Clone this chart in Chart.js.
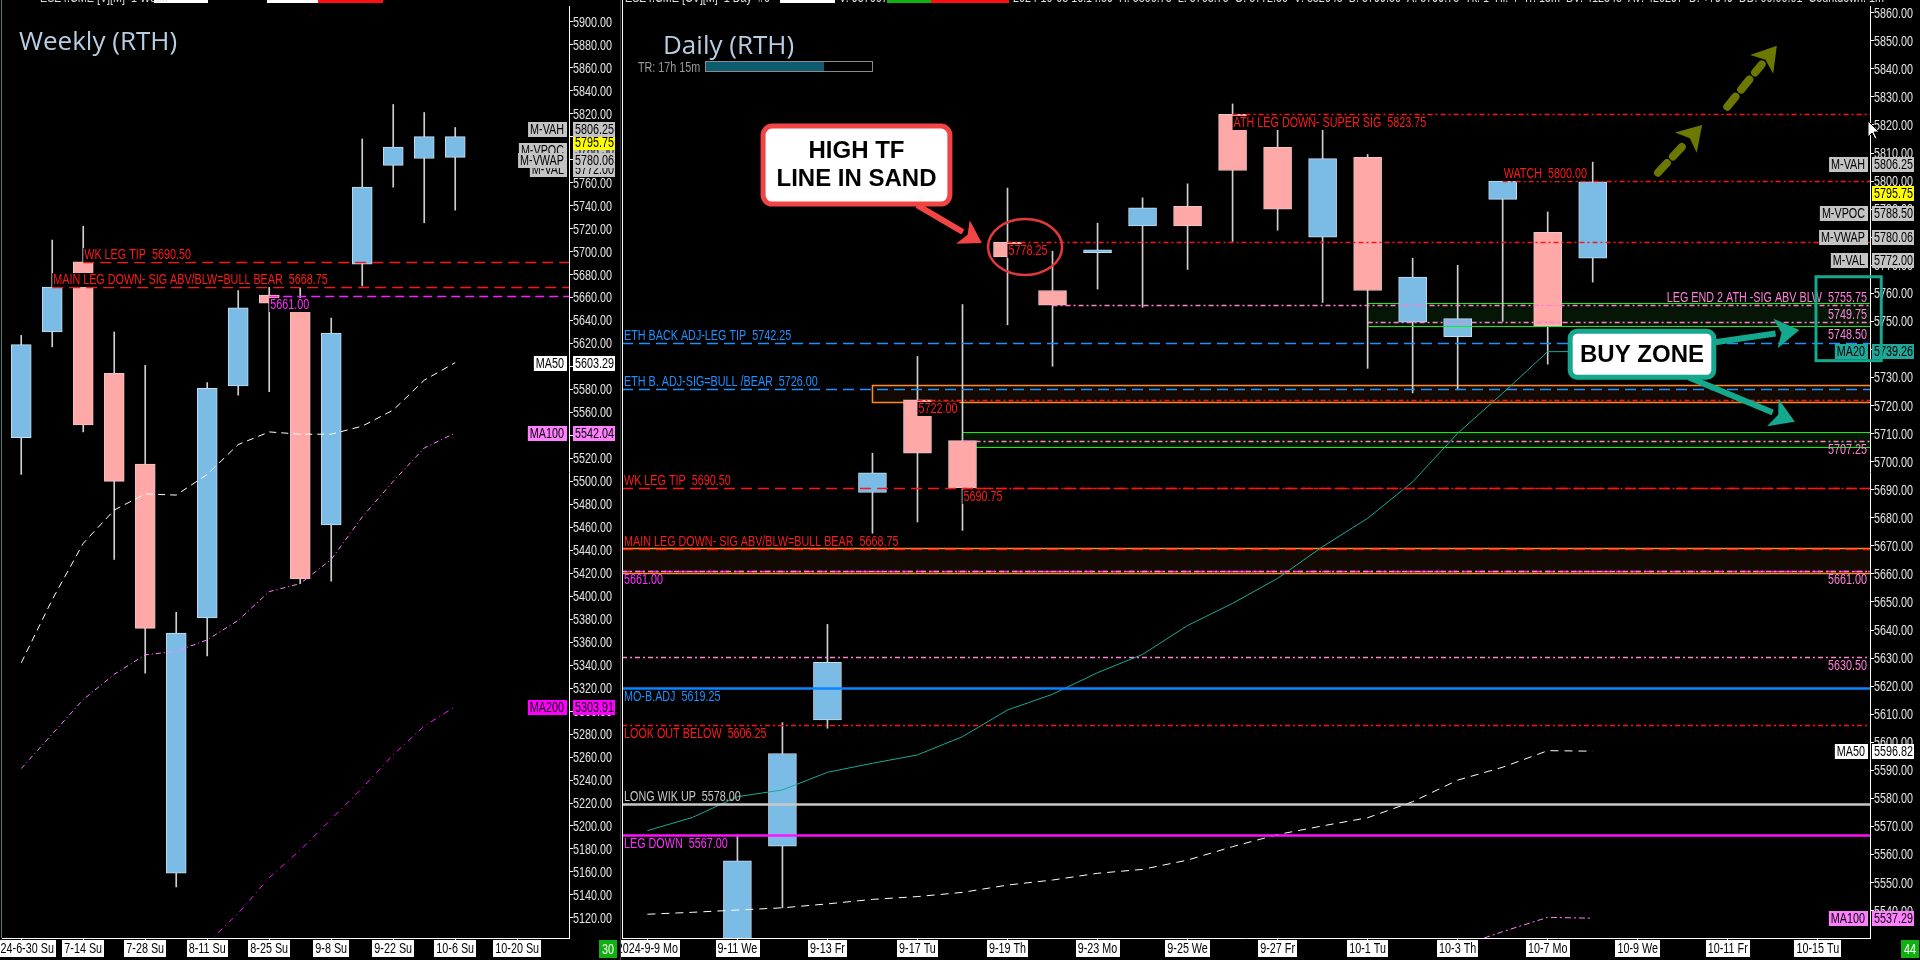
<!DOCTYPE html>
<html>
<head>
<meta charset="utf-8">
<script src="https://cdn.jsdelivr.net/npm/chart.js@4/dist/chart.umd.min.js"></script>
<style>
  html, body { margin: 0; padding: 0; background: #000; overflow: hidden; }
  #wrap { position: relative; width: 1920px; height: 960px; background: #000; }
  #weekly { position: absolute; left: 0; top: 0; }
  #daily  { position: absolute; left: 621px; top: 0; }
  .sep { position: absolute; left: 620px; top: 0; width: 1px; height: 960px; background: #3a3a3a; }
</style>
</head>
<body>
<div id="wrap">
  <canvas id="weekly" width="620" height="960"></canvas>
  <div class="sep"></div>
  <canvas id="daily" width="1299" height="960"></canvas>
</div>
<script>
// ── Weekly data ───────────────────────────────────────────────────────────────
const weekLabels = ['2024-6-30 Su','7-7 Su','7-14 Su','7-21 Su','7-28 Su','8-4 Su','8-11 Su','8-18 Su','8-25 Su',
                    '9-1 Su','9-8 Su','9-15 Su','9-22 Su','9-29 Su','10-6 Su','10-13 Su','10-20 Su','10-27 Su'];
const weekOpen  = [5538, 5630, 5691, 5594, 5515, 5159, 5381, 5583, 5662, 5655, 5462, 5689, 5775, 5781, 5782];
const weekHigh  = [5627, 5710, 5722, 5630, 5601, 5386, 5586, 5666, 5669, 5668, 5642, 5798, 5828, 5821, 5808];
const weekLow   = [5506, 5617, 5543, 5432, 5333, 5147, 5348, 5575, 5578, 5411, 5413, 5670, 5756, 5725, 5736];
const weekClose = [5619, 5669, 5549, 5500, 5372, 5368, 5581, 5651, 5655, 5415, 5629, 5756, 5791, 5800, 5800];
const weekMa50  = [5342, 5397, 5446, 5475, 5489, 5488, 5506, 5532, 5543, 5541, 5541, 5548, 5562, 5588, 5603.29];
const weekMa100 = [5250, 5280, 5310, 5332, 5349, 5352, 5362, 5379, 5404, 5411, 5432, 5469, 5500, 5529, 5542.04];
const weekMa200 = [null, null, null, null, null, null, 5098, 5124, 5155, 5179, 5206, 5233, 5262, 5287, 5303.91];

const weekLevelValues = [5690.50, 5668.75, 5661.00];
const weekLevelNames  = ['WK LEG TIP', 'MAIN LEG DOWN- SIG ABV/BLW=BULL BEAR', ''];
const weekLevelStart  = [2, 1, 8];

const weekTagNames  = ['M-VPOC', 'M-VAL', 'M-VWAP', '', 'M-VAH', 'MA50', 'MA100', 'MA200'];
const weekTagValues = [5788.50, 5772.00, 5780.06, 5795.75, 5806.25, 5603.29, 5542.04, 5303.91];

// ── Daily data ────────────────────────────────────────────────────────────────
const dayLabels = ['2024-9-9 Mo','9-10 Tu','9-11 We','9-12 Th','9-13 Fr','9-16 Mo','9-17 Tu','9-18 We','9-19 Th',
                   '9-20 Fr','9-23 Mo','9-24 Tu','9-25 We','9-26 Th','9-27 Fr','9-30 Mo','10-1 Tu','10-2 We',
                   '10-3 Th','10-4 Fr','10-7 Mo','10-8 Tu','10-9 We','10-10 Th','10-11 Fr','10-14 Mo','10-15 Tu'];
const dayOpen  = [null, null, 5500, 5563, 5608, 5689, 5722, 5707.5, 5778.25, 5761, 5774.5, 5784, 5791, 5823.75,
                  5812, 5780, 5808.5, 5749.75, 5744.5, 5793.5, 5781.75, 5772.5];
const dayHigh  = [null, null, 5567, 5607, 5642, 5703, 5737.5, 5756, 5797.5, 5775, 5785, 5794, 5799, 5827.5,
                  5818.5, 5818.5, 5809.5, 5772.5, 5770, 5800, 5789, 5806.75];
const dayLow   = [null, null, 5480, 5541, 5605, 5674.5, 5678.5, 5675.5, 5748.75, 5734, 5761.5, 5755, 5768.5, 5778.5,
                  5782.5, 5756.75, 5733.25, 5724.5, 5726, 5750, 5734.75, 5764];
const dayClose = [null, null, 5557.75, 5596, 5628.5, 5696, 5703, 5690.75, 5773, 5755.75, 5775.5, 5790.5, 5784, 5803.75,
                  5790, 5808, 5761, 5765.75, 5751, 5800, 5748.5, 5799.75];
const dayMa20  = [5568.5, 5573.2, 5580.6, 5583, 5589.3, 5592.5, 5595.5, 5602, 5611.5, 5617.1, 5624.8, 5631.3, 5641.6,
                  5649.5, 5658.4, 5669.7, 5679.8, 5692.8, 5710.1, 5724.4, 5739.2, 5739.26];
const dayMa50  = [5538.7, 5539.4, 5540.2, 5541, 5542.4, 5544, 5545, 5546.5, 5549.1, 5550.9, 5553.3, 5554.7, 5558,
                  5562.8, 5567.1, 5570.2, 5573.1, 5578.8, 5586.5, 5591.1, 5597, 5596.82];
const dayMa100 = [null, null, null, null, null, null, null, null, null, null, null, null, null, null, null, null,
                  null, null, 5527, 5532.5, 5537.6, 5537.29];

const dayLevelValues = [5823.75, 5800.00, 5778.25, 5755.75, 5749.75, 5748.50, 5742.25, 5726.00, 5722.00, 5707.25,
                        5690.50, 5690.75, 5668.75, 5661.00, 5661.00, 5630.50, 5619.25, 5606.25, 5578.00, 5567.00];
const dayLevelNames  = ['ATH LEG DOWN- SUPER SIG', 'WATCH', '', 'LEG END 2 ATH -SIG ABV BLW', '', '',
                        'ETH BACK ADJ-LEG TIP', 'ETH B. ADJ-SIG=BULL /BEAR', '', '', 'WK LEG TIP', '',
                        'MAIN LEG DOWN- SIG ABV/BLW=BULL BEAR', '', '', '', 'MO-B.ADJ', 'LOOK OUT BELOW',
                        'LONG WIK UP', 'LEG DOWN'];
const dayLevelStart  = [13, 19, 8, 9, 16, 16, null, null, 6, 7, null, 7, null, null, null, null, null, null, null, null];

const dayZoneTop    = [5727.25, 5669.25, 5756.5, 5710.5];
const dayZoneBottom = [5721.25, 5660.25, 5748.5, 5705.25];
const dayZoneStart  = [5, null, 16, 7];

const dayTagNames  = ['M-VAH', '', 'M-VPOC', 'M-VWAP', 'M-VAL', 'MA20', 'MA50', 'MA100'];
const dayTagValues = [5806.25, 5795.75, 5788.50, 5780.06, 5772.00, 5739.26, 5596.82, 5537.29];

// ── Styles ────────────────────────────────────────────────────────────────────
const FONT = "14px 'Liberation Sans', Arial, sans-serif";
const SX   = 0.77;   // horizontal squeeze, the platform uses a narrow face
const BOLD = "bold 24px 'Liberation Sans', Arial, sans-serif";
const UP = '#7bbce6', DN = '#ffa8a8';

const LINE = {
  redDash:     { c: '#ff1414', w: 1.5, d: [11, 6] },
  redDD:       { c: '#ff1414', w: 1.5, d: [5, 3, 2, 3] },
  pinkDD:      { c: '#ff80c8', w: 1.5, d: [5, 3, 2, 3] },
  magentaDash: { c: '#ff20ff', w: 1.5, d: [9, 5] },
  blueDash:    { c: '#1e90ff', w: 1.5, d: [11, 6] },
  blueSolid:   { c: '#0a84ff', w: 2.5, d: [] },
  graySolid:   { c: '#c8c8c8', w: 2.5, d: [] },
  magentaSolid:{ c: '#ff10ff', w: 2.5, d: [] },
  green:       { c: '#10f010', w: 1.2, d: [] }
};
const TEXT = { redDash: '#ff1a1a', redDD: '#ff1a1a', pinkDD: '#ff80d8', magentaDash: '#ff30ff', blueDash: '#1e90ff',
               blueSolid: '#1e90ff', graySolid: '#c8c8c8', magentaSolid: '#ff30ff', green: '#ff80d8' };

const weekLevelStyle = ['redDash', 'redDash', 'magentaDash'];
const weekLevelTag   = ['start-above', 'start-above', 'start-below'];
const dayLevelStyle  = ['redDD', 'redDD', 'redDD', 'pinkDD', 'pinkDD', 'green', 'blueDash', 'blueDash', 'redDD', 'pinkDD',
                        'redDash', 'redDD', 'redDash', 'magentaDash', 'pinkDD', 'pinkDD', 'blueSolid', 'redDD',
                        'graySolid', 'magentaSolid'];
const dayLevelTag    = ['start-below', 'start-above', 'start-below', 'right-above', 'right-above', 'right-below',
                        'left-above', 'left-above', 'start-below', 'right-below', 'left-above', 'start-below',
                        'left-above', 'left-below', 'right-below', 'right-below', 'left-below', 'left-below',
                        'left-above', 'left-below'];
const dayZoneStyle   = ['orange', 'orange', 'green', 'green'];

const TAG = { gray: '#c4c4c4', yellow: '#ffff00', white: '#ffffff', pink: '#ff80ff', magenta: '#ff00ff', teal: '#1fa89a' };
const weekTagStyle = ['gray', 'gray', 'gray', 'yellow', 'gray', 'white', 'pink', 'magenta'];
const dayTagStyle  = ['gray', 'yellow', 'gray', 'gray', 'gray', 'teal', 'white', 'pink'];

// ── Helpers ───────────────────────────────────────────────────────────────────
function textW(ctx, txt) {
  ctx.font = FONT;
  return ctx.measureText(txt).width * SX;
}

// narrow text: draws with a horizontal squeeze, x is the left edge
function ntext(ctx, txt, x, y, color, baseline) {
  ctx.save();
  ctx.font = FONT; ctx.fillStyle = color; ctx.textAlign = 'left'; ctx.textBaseline = baseline || 'alphabetic';
  ctx.translate(x, y); ctx.scale(SX, 1);
  ctx.fillText(txt, 0, 0);
  ctx.restore();
}

function candleSets(open, high, low, close, bodyW) {
  const wicks = [], bodies = [];
  open.forEach((o, i) => {
    if (o == null) return;
    wicks.push({ x: i, y: [low[i], high[i]] });
    bodies.push({ x: i, y: [o, close[i]] });
  });
  const isUp = c => c.raw && c.raw.y[1] >= c.raw.y[0];
  return [
    { type: 'bar', data: wicks, barThickness: 1, grouped: false, order: 3, backgroundColor: '#cfcfcf', borderWidth: 0 },
    { type: 'bar', data: bodies, barThickness: bodyW, grouped: false, order: 2, borderSkipped: false, borderWidth: 1,
      backgroundColor: c => isUp(c) ? UP : DN,
      borderColor: c => isUp(c) ? '#c6dcef' : '#efc4c4' }
  ];
}

function maSet(values, color, dash) {
  return {
    type: 'line', order: 1, data: values.map((v, i) => ({ x: i, y: v })),
    borderColor: color, borderWidth: 1, borderDash: dash, pointRadius: 0, spanGaps: false, tension: 0
  };
}

function clipArea(chart) {
  const { ctx, chartArea: a } = chart;
  ctx.beginPath();
  ctx.rect(a.left, a.top, a.right - a.left, a.bottom - a.top);
  ctx.clip();
}

function drawLevels(chart, values, names, starts, styles, tags) {
  const { ctx, chartArea: a, scales: { x, y } } = chart;
  ctx.save();
  clipArea(chart);
  values.forEach((v, i) => {
    const st = LINE[styles[i]];
    const yy = Math.round(y.getPixelForValue(v)) + 0.5;
    const x0 = starts[i] == null ? a.left : x.getPixelForValue(starts[i]);
    ctx.strokeStyle = st.c; ctx.lineWidth = st.w; ctx.setLineDash(st.d);
    ctx.beginPath(); ctx.moveTo(x0, yy); ctx.lineTo(a.right, yy); ctx.stroke();
  });
  ctx.setLineDash([]);
  values.forEach((v, i) => {
    const txt = names[i] ? names[i] + '  ' + v.toFixed(2) : v.toFixed(2);
    const yy = Math.round(y.getPixelForValue(v));
    const [where, side] = tags[i].split('-');
    const base = side === 'above' ? yy - 3 : yy + 13;
    const w = textW(ctx, txt);
    let tx;
    if (where === 'left') tx = a.left + 2;
    else if (where === 'right') tx = a.right - 3 - w;
    else {
      tx = x.getPixelForValue(starts[i]);
      ctx.fillStyle = '#000';
      ctx.fillRect(tx, side === 'above' ? yy - 14 : yy + 2, w + 3, 14);
      tx += 1;
    }
    ntext(ctx, txt, tx, base, TEXT[styles[i]]);
  });
  ctx.restore();
}

function drawZones(chart) {
  const { ctx, chartArea: a, scales: { x, y } } = chart;
  ctx.save();
  clipArea(chart);
  dayZoneTop.forEach((top, i) => {
    const x0 = dayZoneStart[i] == null ? a.left : x.getPixelForValue(dayZoneStart[i]);
    const y0 = Math.round(y.getPixelForValue(top)) + 0.5;
    const y1 = Math.round(y.getPixelForValue(dayZoneBottom[i])) + 0.5;
    const orange = dayZoneStyle[i] === 'orange';
    ctx.fillStyle = orange ? '#120a02' : '#061606';
    ctx.fillRect(x0, y0, a.right - x0, y1 - y0);
    ctx.strokeStyle = orange ? '#ff8c1a' : '#10f010';
    ctx.lineWidth = orange ? 1.5 : 1.2;
    ctx.beginPath();
    ctx.moveTo(a.right, y0); ctx.lineTo(x0, y0);
    if (orange) ctx.lineTo(x0, y1); else ctx.moveTo(x0, y1);
    ctx.lineTo(a.right, y1);
    ctx.stroke();
  });
  ctx.restore();
}

// axis texts drawn by hand so the narrow face can be imitated
function drawAxisText(chart, labels) {
  const { ctx, chartArea: a, scales: { x, y } } = chart;
  y.ticks.forEach(t => {
    ntext(ctx, t.value.toFixed(2), a.right + 4, Math.round(y.getPixelForValue(t.value)) + 1, '#e4e4e4', 'middle');
  });
  x.ticks.forEach(t => {
    const txt = labels[t.value];
    if (!txt) return;
    const cx = x.getPixelForValue(t.value), w = textW(ctx, txt);
    ctx.fillStyle = '#ffffff';
    ctx.fillRect(Math.round(cx - w / 2 - 2), a.bottom + 2, Math.round(w + 4), 17);
    ntext(ctx, txt, cx - w / 2, a.bottom + 15, '#000');
  });
}

function drawTags(chart, names, values, styles, gap) {
  const { ctx, chartArea: a, scales: { y } } = chart;
  names.forEach((n, i) => {
    const bg = TAG[styles[i]];
    const yy = Math.round(y.getPixelForValue(values[i]));
    if (n) {
      const w = textW(ctx, n) + 5;
      ctx.fillStyle = bg; ctx.fillRect(a.right - 2 - w, yy - 7, w, 15);
      ntext(ctx, n, a.right - w, yy + 1, '#000', 'middle');
    }
    ctx.fillStyle = bg; ctx.fillRect(a.right + gap, yy - 7, 42, 15);
    ntext(ctx, values[i].toFixed(2), a.right + gap + 2, yy + 1, '#000', 'middle');
  });
}

function greenBox(ctx, txt, x, y) {
  ctx.fillStyle = '#10b010'; ctx.fillRect(x, y, 18, 18);
  ntext(ctx, txt, x + 3, y + 10, '#fff', 'middle');
}

function roundRect(ctx, x, y, w, h, r) {
  ctx.beginPath();
  ctx.moveTo(x + r, y); ctx.arcTo(x + w, y, x + w, y + h, r); ctx.arcTo(x + w, y + h, x, y + h, r);
  ctx.arcTo(x, y + h, x, y, r); ctx.arcTo(x, y, x + w, y, r); ctx.closePath();
}

function arrow(ctx, x1, y1, x2, y2, color, width, head, dash) {
  const ang = Math.atan2(y2 - y1, x2 - x1);
  const bx = x2 - Math.cos(ang) * head, by = y2 - Math.sin(ang) * head;
  ctx.save();
  ctx.strokeStyle = color; ctx.fillStyle = color; ctx.lineWidth = width; ctx.lineCap = dash ? 'round' : 'butt';
  ctx.setLineDash(dash || []);
  ctx.beginPath(); ctx.moveTo(x1, y1); ctx.lineTo(bx, by); ctx.stroke();
  ctx.setLineDash([]);
  const hw = head * 0.62;
  ctx.beginPath();
  ctx.moveTo(x2, y2);
  ctx.lineTo(bx + Math.sin(ang) * hw, by - Math.cos(ang) * hw);
  ctx.lineTo(bx + Math.cos(ang) * head * 0.25, by + Math.sin(ang) * head * 0.25);
  ctx.lineTo(bx - Math.sin(ang) * hw, by + Math.cos(ang) * hw);
  ctx.closePath(); ctx.fill();
  ctx.restore();
}

// mouse pointer left in the screenshot
function cursor(ctx, x, y) {
  ctx.save();
  ctx.translate(x, y);
  ctx.beginPath();
  ctx.moveTo(0, 0); ctx.lineTo(0, 16); ctx.lineTo(4, 12); ctx.lineTo(7, 18); ctx.lineTo(9, 17);
  ctx.lineTo(6, 11); ctx.lineTo(11, 11); ctx.closePath();
  ctx.fillStyle = '#fff'; ctx.fill();
  ctx.strokeStyle = '#000'; ctx.lineWidth = 1; ctx.stroke();
  ctx.restore();
}

function axes(opts) {
  return {
    x: {
      type: 'linear', min: opts.xMin, max: opts.xMax, offset: false,
      afterBuildTicks: s => { s.ticks = opts.xTicks.map(v => ({ value: v })); },
      afterFit: s => { s.height = 22; s.paddingLeft = 0; s.paddingRight = 0; },
      grid: { drawOnChartArea: false, drawTicks: true, tickLength: 3, color: '#ffffff', offset: false },
      border: { display: true, color: '#ffffff' },
      ticks: { display: false, autoSkip: false }
    },
    y: {
      position: 'right', min: opts.yMin, max: opts.yMax,
      afterFit: s => { s.width = opts.yWidth; s.paddingTop = 0; s.paddingBottom = 0; },
      grid: { drawOnChartArea: false, drawTicks: true, tickLength: 4, color: '#ffffff' },
      border: { display: true, color: '#ffffff' },
      ticks: { display: false, stepSize: opts.step, includeBounds: false, autoSkip: false }
    }
  };
}

const baseOptions = {
  responsive: false, animation: false, events: [],
  plugins: { legend: { display: false }, tooltip: { enabled: false } }
};

// ── Weekly chart ──────────────────────────────────────────────────────────────
const weeklyPlugin = {
  id: 'weeklyDeco',
  afterDatasetsDraw(chart) {
    drawLevels(chart, weekLevelValues, weekLevelNames, weekLevelStart, weekLevelStyle, weekLevelTag);
  },
  afterDraw(chart) {
    const { ctx, chartArea: a } = chart;
    ctx.save();
    ctx.strokeStyle = '#3f7f7f'; ctx.lineWidth = 1;
    ctx.beginPath(); ctx.moveTo(1.5, 0); ctx.lineTo(1.5, a.bottom); ctx.stroke();
    ctx.fillStyle = '#b9cde2'; ctx.font = "26px 'Open Sans', 'Noto Sans', sans-serif";
    ctx.textAlign = 'left'; ctx.textBaseline = 'alphabetic';
    ctx.fillText('Weekly (RTH)', 19, 50);
    // header strip, cut at the top edge
    ctx.fillStyle = '#fff'; ctx.fillRect(154, 0, 54, 3); ctx.fillRect(267, 0, 51, 3);
    ctx.fillStyle = '#ff1010'; ctx.fillRect(318, 0, 65, 3);
    ntext(ctx, 'ESZ4.CME [V][M]  1 Week', 40, 2, '#ddd');
    greenBox(ctx, '30', 599, 940);
    ctx.restore();
    drawAxisText(chart, weekLabels);
    drawTags(chart, weekTagNames, weekTagValues, weekTagStyle, 4);
  }
};

new Chart(document.getElementById('weekly'), {
  type: 'bar',
  data: {
    datasets: [
      ...candleSets(weekOpen, weekHigh, weekLow, weekClose, 20),
      maSet(weekMa50, '#ffffff', [7, 5]),
      maSet(weekMa100, '#ff80ff', [5, 3, 1, 3]),
      maSet(weekMa200, '#ff10ff', [6, 4, 1, 4])
    ]
  },
  options: {
    ...baseOptions,
    layout: { autoPadding: false, padding: { left: 2, top: 6, right: 0, bottom: 0 } },
    scales: axes({ xMin: -0.62, xMax: 17.67, xTicks: [0, 2, 4, 6, 8, 10, 12, 14, 16],
                   yMin: 5102.5, yMax: 5913.7, step: 20, yWidth: 51 })
  },
  plugins: [weeklyPlugin]
});

// ── Daily chart ───────────────────────────────────────────────────────────────
const dailyPlugin = {
  id: 'dailyDeco',
  beforeDatasetsDraw(chart) { drawZones(chart); },
  afterDatasetsDraw(chart) {
    drawLevels(chart, dayLevelValues, dayLevelNames, dayLevelStart, dayLevelStyle, dayLevelTag);
  },
  afterDraw(chart) {
    const { ctx, chartArea: a, scales: { x, y } } = chart;
    const px = v => x.getPixelForValue(v), py = v => y.getPixelForValue(v);
    ctx.save();
    ctx.strokeStyle = '#ffffff'; ctx.lineWidth = 1;
    ctx.beginPath(); ctx.moveTo(a.left + 0.5, 0); ctx.lineTo(a.left + 0.5, a.bottom); ctx.stroke();

    // title + session timer
    ctx.fillStyle = '#b9cde2'; ctx.font = "26px 'Open Sans', 'Noto Sans', sans-serif";
    ctx.textAlign = 'left'; ctx.textBaseline = 'alphabetic';
    ctx.fillText('Daily (RTH)', 42, 54);
    ntext(ctx, 'TR: 17h 15m', 17, 72, '#9a9a9a');
    ctx.fillStyle = '#0e5c70'; ctx.fillRect(85, 62, 118, 9);
    ctx.strokeStyle = '#8a8a8a'; ctx.strokeRect(84.5, 61.5, 167, 10);

    // header strip, cut at the top edge
    ctx.fillStyle = '#fff'; ctx.fillRect(159, 0, 55, 3);
    ctx.fillStyle = '#10b010'; ctx.fillRect(266, 0, 44, 3);
    ctx.fillStyle = '#ff1010'; ctx.fillRect(310, 0, 78, 3);
    ntext(ctx, 'ESZ4.CME [CV][M]  1 Day  #0', 4, 2, '#e0e0e0');
    ntext(ctx, 'V: 937667', 218, 2, '#e0e0e0');
    ntext(ctx, '2024-10-08 16:14:59  H: 5806.75  L: 5763.75  O: 5772.50  V: 832645  B: 5799.50  A: 5799.75  Tk: 1  Hi: 4  Tr: 15m  BV: 412348  AV: 420297  D: +7949  DD: 00:00:01  Countdown: 1m', 392, 2, '#e0e0e0');

    // HIGH TF callout
    const bx0 = px(2.57), bx1 = px(6.72), by0 = py(5819.6), by1 = py(5791.8);
    roundRect(ctx, bx0, by0, bx1 - bx0, by1 - by0, 9);
    ctx.fillStyle = '#ffffff'; ctx.fill();
    ctx.lineWidth = 5; ctx.strokeStyle = '#f24444'; ctx.stroke();
    ctx.fillStyle = '#000'; ctx.font = BOLD; ctx.textAlign = 'center'; ctx.textBaseline = 'middle';
    ctx.fillText('HIGH TF', (bx0 + bx1) / 2, by0 + 25);
    ctx.fillText('LINE IN SAND', (bx0 + bx1) / 2, by0 + 53);
    arrow(ctx, px(5.99), py(5791.4), px(7.43), py(5777.9), '#f24444', 6, 22);
    ctx.strokeStyle = '#e23a3a'; ctx.lineWidth = 2.5;
    ctx.beginPath(); ctx.ellipse(px(8.39), py(5776.5), 37, 28, 0, 0, Math.PI * 2); ctx.stroke();

    // BUY ZONE callout
    const zx0 = px(20.5), zx1 = px(23.69), zy0 = py(5746.5), zy1 = py(5730.1);
    arrow(ctx, px(23.6), py(5742.3), px(25.59), py(5746.9), '#14a88e', 6, 24);
    arrow(ctx, px(23.14), py(5730), px(25.49), py(5714.2), '#14a88e', 6, 24);
    roundRect(ctx, zx0, zy0, zx1 - zx0, zy1 - zy0, 7);
    ctx.fillStyle = '#ffffff'; ctx.fill();
    ctx.lineWidth = 5; ctx.strokeStyle = '#14a88e'; ctx.stroke();
    ctx.fillStyle = '#000'; ctx.font = BOLD; ctx.textAlign = 'center'; ctx.textBaseline = 'middle';
    ctx.fillText('BUY ZONE', (zx0 + zx1) / 2, (zy0 + zy1) / 2 + 1);

    // olive "continuation" arrows
    arrow(ctx, px(22.45), py(5803), px(23.43), py(5820), '#6c7800', 8, 24, [13, 9]);
    arrow(ctx, px(23.99), py(5826.5), px(25.09), py(5848.2), '#6c7800', 8, 24, [13, 9]);

    greenBox(ctx, '44', 1280, 940);
    ctx.restore();

    drawAxisText(chart, dayLabels);
    drawTags(chart, dayTagNames, dayTagValues, dayTagStyle, 2);

    // teal frame around the buy-zone prices (over the axis)
    ctx.save();
    ctx.strokeStyle = '#14a88e'; ctx.lineWidth = 3;
    ctx.strokeRect(px(25.96), py(5765.9), px(27.41) - px(25.96), py(5736) - py(5765.9));
    ctx.restore();
    cursor(ctx, a.right - 2, 121);
  }
};

new Chart(document.getElementById('daily'), {
  type: 'bar',
  data: {
    datasets: [
      ...candleSets(dayOpen, dayHigh, dayLow, dayClose, 28),
      maSet(dayMa20, '#1aa99b', []),
      maSet(dayMa50, '#ffffff', [8, 6]),
      maSet(dayMa100, '#ff80ff', [6, 3, 2, 3])
    ]
  },
  options: {
    ...baseOptions,
    layout: { autoPadding: false, padding: { left: 1, top: 6, right: 0, bottom: 0 } },
    scales: axes({ xMin: -0.564, xMax: 27.16, xTicks: [0, 2, 4, 6, 8, 10, 12, 14, 16, 18, 20, 22, 24, 26],
                   yMin: 5530.24, yMax: 5862.39, step: 10, yWidth: 50 })
  },
  plugins: [dailyPlugin]
});
</script>
</body>
</html>
